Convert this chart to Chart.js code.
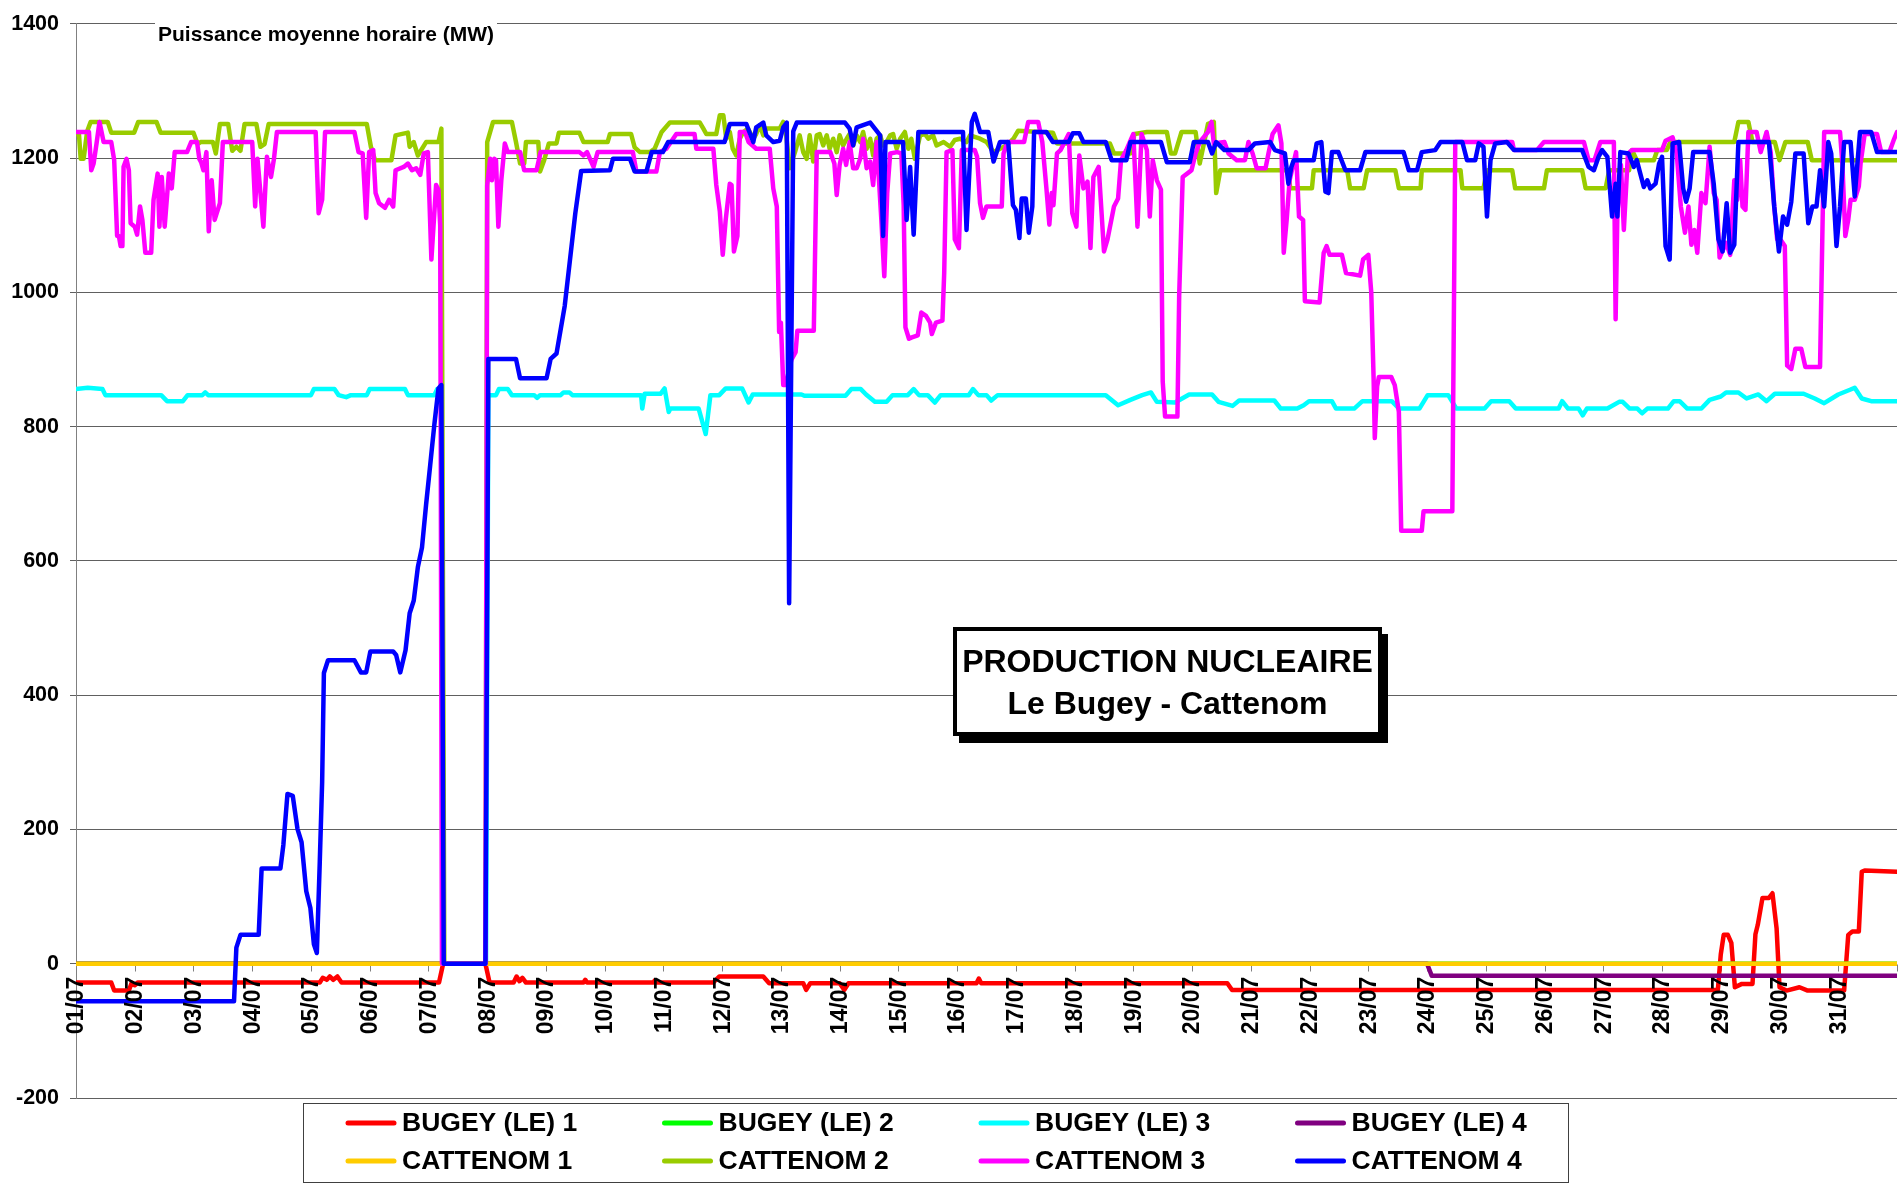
<!DOCTYPE html>
<html>
<head>
<meta charset="utf-8">
<title>Production nucleaire - Le Bugey - Cattenom</title>
<script src="https://cdn.jsdelivr.net/npm/chart.js@4.4.1/dist/chart.umd.min.js"></script>
<style>
  html, body { margin: 0; padding: 0; background: #fff; }
  #caja { width: 1899px; height: 1187px; }
</style>
</head>
<body>
<div id="caja"><canvas id="grafico"></canvas></div>
<script>
// etiquetas del eje x (un tick por dia)
const dias = ['01/07','02/07','03/07','04/07','05/07','06/07','07/07','08/07','09/07','10/07',
  '11/07','12/07','13/07','14/07','15/07','16/07','17/07','18/07','19/07','20/07',
  '21/07','22/07','23/07','24/07','25/07','26/07','27/07','28/07','29/07','30/07','31/07']

const nombres = ['BUGEY (LE) 1','BUGEY (LE) 2','BUGEY (LE) 3','BUGEY (LE) 4',
  'CATTENOM 1','CATTENOM 2','CATTENOM 3','CATTENOM 4']

const titulo = ['PRODUCTION NUCLEAIRE', 'Le Bugey - Cattenom']
const unidad = 'Puissance moyenne horaire (MW)'

// [dia desde el 01/07 00h, MW]
const bugey1 = [[0,-28],[0.6,-28],[0.65,-40],[0.9,-40],[0.95,-28],[1.0,-32],[1.05,-28],[4.15,-28],[4.2,-21],[4.27,-24],[4.32,-19],
  [4.38,-24],[4.45,-19],[4.52,-28],[6.18,-28],[6.25,0],[6.97,0],[7.04,-28],[7.45,-28],[7.5,-19],[7.55,-26],[7.6,-21],[7.66,-28],
  [8.64,-28],[8.67,-24],[8.7,-28],[9.83,-28],[9.85,-25],[9.88,-28],[10.85,-28],[10.95,-19],[11.7,-19],[11.8,-29],[12.38,-29],
  [12.43,-39],[12.5,-29],[13.0,-29],[13.08,-39],[13.15,-29],[15.33,-29],[15.37,-22],[15.41,-29],[19.6,-29],[19.68,-39],[27.95,-39],
  [28.0,14],[28.05,43],[28.12,43],[28.18,31],[28.24,-35],[28.36,-30],[28.54,-30],[28.59,44],[28.63,58],[28.71,98],[28.82,98],
  [28.88,105],[28.95,53],[29.0,-35],[29.12,-40],[29.34,-35],[29.48,-40],[30.1,-40],[30.17,43],[30.24,48],[30.35,48],[30.4,137],
  [30.45,139],[31,137]]

const bugey2 = [[0,0],[31,0]]

const bugey3 = [[0,856],[0.2,858],[0.45,856],[0.5,847],[1.45,847],[1.55,838],[1.82,838],[1.9,847],[2.15,847],[2.2,851],[2.25,847],
  [4.0,847],[4.05,856],[4.4,856],[4.47,847],[4.6,844],[4.68,847],[4.95,847],[5.0,856],[5.6,856],[5.65,847],[6.1,847],[6.15,856],
  [6.22,856],[6.26,0],[6.98,0],[7.02,847],[7.15,847],[7.2,856],[7.35,856],[7.42,847],[7.8,847],[7.85,843],[7.9,847],[8.25,847],
  [8.3,851],[8.4,851],[8.45,847],[9.62,847],[9.64,827],[9.68,849],[9.95,849],[10.02,857],[10.09,822],[10.12,827],[10.6,827],
  [10.72,789],[10.8,847],[10.95,847],[11.06,857],[11.34,857],[11.45,836],[11.52,848],[12.35,848],[12.4,846],[13.1,846],[13.2,856],
  [13.36,856],[13.45,848],[13.6,837],[13.8,837],[13.9,847],[14.16,847],[14.26,856],[14.35,847],[14.5,847],[14.62,836],[14.72,847],
  [15.2,847],[15.27,856],[15.36,847],[15.5,847],[15.58,839],[15.69,847],[17.53,847],[17.74,832],[17.95,840],[18.15,847],[18.3,851],
  [18.4,837],[18.71,836],[18.95,848],[19.34,848],[19.45,837],[19.69,831],[19.8,839],[20.4,839],[20.51,827],[20.79,827],[20.9,832],
  [20.99,838],[21.38,838],[21.45,827],[21.76,827],[21.9,838],[22.4,838],[22.52,827],[22.87,827],[23.01,847],[23.36,847],[23.5,827],
  [23.98,827],[24.09,838],[24.4,838],[24.51,827],[25.24,827],[25.3,838],[25.4,827],[25.58,827],[25.65,817],[25.72,827],[26.07,827],
  [26.27,837],[26.33,837],[26.45,827],[26.58,827],[26.66,820],[26.75,827],[27.1,827],[27.2,838],[27.3,838],[27.43,827],[27.67,827],
  [27.81,840],[28.0,845],[28.09,851],[28.3,851],[28.44,842],[28.64,848],[28.78,838],[28.92,849],[29.41,849],[29.6,842],[29.76,835],
  [30.0,848],[30.2,855],[30.28,858],[30.4,842],[30.56,838],[31,838]]

const bugey4 = [[0,0],[23.0,0],[23.08,-18],[31,-18]]

const cattenom1 = [[0,0],[31,0]]

const cattenom2 = [[0,1236],[0.05,1236],[0.08,1199],[0.13,1199],[0.19,1240],[0.25,1254],[0.54,1254],[0.6,1238],[0.99,1238],
  [1.06,1254],[1.37,1254],[1.44,1238],[2.0,1238],[2.07,1221],[2.12,1224],[2.33,1224],[2.38,1207],[2.45,1251],[2.59,1251],[2.66,1211],
  [2.73,1217],[2.8,1211],[2.87,1251],[3.07,1251],[3.14,1217],[3.21,1221],[3.28,1251],[4.95,1251],[5.02,1217],[5.09,1197],[5.37,1197],
  [5.44,1234],[5.65,1238],[5.68,1217],[5.75,1224],[5.82,1204],[5.96,1224],[6.17,1224],[6.22,1244],[6.27,0],[6.97,0],[7.0,1224],
  [7.1,1254],[7.42,1254],[7.49,1224],[7.56,1192],[7.63,1192],[7.66,1224],[7.87,1224],[7.9,1180],[7.97,1197],[8.05,1222],[8.18,1222],
  [8.22,1238],[8.57,1238],[8.64,1224],[9.05,1224],[9.09,1236],[9.45,1236],[9.51,1216],[9.6,1209],[9.77,1209],[9.85,1214],[9.97,1239],
  [10.11,1253],[10.62,1253],[10.68,1244],[10.73,1236],[10.9,1236],[10.96,1264],[11.02,1264],[11.07,1229],[11.13,1239],[11.18,1214],
  [11.24,1204],[11.3,1229],[11.36,1239],[11.44,1244],[11.53,1229],[11.58,1236],[11.64,1249],[11.7,1234],[11.75,1244],[11.98,1244],
  [12.04,1254],[12.09,1234],[12.15,1185],[12.24,1209],[12.32,1234],[12.38,1209],[12.44,1199],[12.49,1234],[12.55,1195],[12.61,1234],
  [12.66,1236],[12.72,1219],[12.78,1234],[12.83,1214],[12.89,1229],[12.95,1209],[13.0,1234],[13.06,1219],[13.12,1229],[13.17,1236],
  [13.23,1219],[13.29,1234],[13.35,1224],[13.4,1239],[13.46,1214],[13.52,1229],[13.57,1204],[13.63,1229],[13.69,1234],[13.74,1219],
  [13.8,1224],[13.86,1234],[13.91,1236],[13.97,1214],[14.03,1229],[14.11,1239],[14.17,1214],[14.22,1229],[14.28,1199],[14.37,1234],
  [14.45,1236],[14.51,1229],[14.59,1234],[14.65,1219],[14.77,1224],[14.88,1217],[14.96,1227],[15.05,1229],[15.16,1224],[15.22,1234],
  [15.39,1229],[15.5,1224],[15.62,1209],[15.73,1214],[15.84,1219],[15.96,1229],[16.04,1241],[16.63,1238],[16.7,1222],[17.6,1222],
  [17.67,1207],[17.95,1207],[18.02,1236],[18.23,1239],[18.57,1239],[18.64,1207],[18.71,1207],[18.82,1239],[19.06,1239],[19.13,1192],
  [19.27,1251],[19.37,1254],[19.41,1148],[19.48,1182],[20.64,1182],[20.67,1155],[21.04,1155],[21.07,1182],[21.64,1182],[21.69,1155],
  [21.92,1155],[21.98,1182],[22.46,1182],[22.52,1155],[22.89,1155],[22.91,1182],[23.57,1182],[23.6,1155],[23.96,1155],[24.02,1182],
  [24.45,1182],[24.5,1155],[24.99,1155],[25.04,1182],[25.64,1182],[25.7,1155],[26.04,1155],[26.1,1182],[26.44,1182],[26.49,1212],
  [26.57,1197],[26.86,1197],[26.92,1212],[27.08,1212],[27.14,1224],[28.23,1224],[28.3,1254],[28.47,1254],[28.54,1224],[28.92,1224],
  [29.0,1197],[29.1,1224],[29.48,1224],[29.55,1197],[31,1197]]

const cattenom3 = [[0,1239],[0.22,1239],[0.26,1182],[0.3,1192],[0.35,1222],[0.4,1254],[0.47,1224],[0.6,1224],[0.65,1197],
  [0.7,1084],[0.73,1084],[0.76,1069],[0.79,1069],[0.81,1187],[0.86,1199],[0.9,1182],[0.93,1103],[1.0,1098],[1.04,1086],[1.09,1128],
  [1.13,1108],[1.18,1059],[1.28,1059],[1.32,1138],[1.39,1177],[1.42,1098],[1.46,1172],[1.51,1098],[1.58,1177],[1.63,1155],[1.68,1209],
  [1.89,1209],[1.96,1224],[2.06,1224],[2.1,1199],[2.13,1194],[2.17,1182],[2.22,1209],[2.26,1091],[2.31,1167],[2.36,1108],[2.45,1133],
  [2.5,1224],[3.0,1224],[3.05,1128],[3.09,1199],[3.14,1148],[3.19,1098],[3.25,1202],[3.32,1172],[3.37,1199],[3.42,1239],[4.08,1239],
  [4.13,1118],[4.19,1138],[4.24,1239],[4.74,1239],[4.81,1209],[4.88,1207],[4.94,1111],[4.99,1209],[5.06,1212],[5.1,1148],[5.16,1133],
  [5.26,1126],[5.33,1138],[5.4,1128],[5.44,1182],[5.58,1187],[5.65,1192],[5.72,1182],[5.79,1185],[5.86,1175],[5.92,1207],[5.99,1209],
  [6.05,1049],[6.1,1118],[6.13,1160],[6.17,1153],[6.2,1100],[6.23,0],[6.97,0],[7.0,1160],[7.05,1199],[7.08,1167],[7.12,1199],
  [7.15,1197],[7.19,1098],[7.24,1167],[7.3,1222],[7.35,1209],[7.56,1209],[7.63,1182],[7.84,1182],[7.91,1209],[8.57,1209],[8.64,1204],
  [8.7,1209],[8.81,1187],[8.88,1209],[9.48,1209],[9.54,1180],[9.88,1180],[9.94,1209],[10.05,1214],[10.22,1236],[10.53,1236],
  [10.56,1214],[10.85,1214],[10.9,1160],[10.96,1121],[11.01,1056],[11.06,1108],[11.13,1162],[11.16,1160],[11.2,1061],[11.26,1084],
  [11.3,1239],[11.39,1239],[11.45,1224],[11.58,1214],[11.81,1214],[11.87,1155],[11.93,1128],[11.97,941],[12.0,955],[12.04,862],
  [12.08,862],[12.18,900],[12.25,911],[12.28,943],[12.56,943],[12.61,1209],[12.84,1209],[12.91,1192],[12.95,1145],[13.0,1190],
  [13.06,1214],[13.11,1190],[13.17,1224],[13.23,1185],[13.29,1185],[13.35,1199],[13.4,1229],[13.46,1185],[13.52,1195],[13.57,1160],
  [13.63,1224],[13.67,1167],[13.71,1108],[13.76,1024],[13.81,1148],[13.86,1207],[13.98,1209],[14.05,1207],[14.09,1130],[14.12,948],
  [14.18,931],[14.23,933],[14.33,936],[14.39,970],[14.47,965],[14.54,955],[14.57,938],[14.64,955],[14.75,958],[14.78,1029],[14.82,1209],
  [14.92,1212],[14.96,1079],[15.03,1066],[15.08,1212],[15.3,1212],[15.34,1202],[15.39,1133],[15.44,1111],[15.5,1128],[15.76,1128],
  [15.79,1207],[15.86,1224],[16.14,1224],[16.21,1254],[16.38,1254],[16.45,1224],[16.52,1155],[16.57,1101],[16.61,1148],[16.64,1130],
  [16.7,1207],[16.76,1212],[16.9,1236],[16.96,1118],[17.03,1098],[17.08,1204],[17.15,1155],[17.22,1165],[17.27,1066],[17.32,1172],
  [17.41,1187],[17.5,1061],[17.56,1079],[17.67,1128],[17.74,1140],[17.79,1197],[17.88,1212],[18.0,1236],[18.07,1098],[18.14,1236],
  [18.23,1212],[18.28,1113],[18.33,1197],[18.4,1167],[18.47,1153],[18.5,867],[18.54,815],[18.75,815],[18.78,995],[18.84,1172],
  [18.96,1180],[18.99,1182],[19.06,1207],[19.13,1224],[19.27,1239],[19.33,1254],[19.37,1222],[19.55,1224],[19.62,1207],[19.76,1197],
  [19.9,1197],[19.96,1224],[20.03,1207],[20.1,1185],[20.25,1185],[20.3,1207],[20.37,1236],[20.47,1249],[20.52,1222],[20.56,1059],
  [20.61,1108],[20.66,1167],[20.72,1190],[20.77,1209],[20.82,1113],[20.89,1108],[20.92,987],[21.17,985],[21.24,1059],[21.29,1069],
  [21.34,1056],[21.55,1056],[21.62,1029],[21.86,1025],[21.91,1049],[22.0,1056],[22.05,1000],[22.09,872],[22.11,783],[22.15,860],
  [22.18,874],[22.39,874],[22.45,862],[22.52,822],[22.56,645],[22.91,645],[22.94,674],[23.43,674],[23.48,1224],[24.45,1224],
  [24.48,1212],[24.87,1212],[24.99,1224],[25.67,1224],[25.75,1197],[25.85,1197],[25.95,1224],[26.18,1224],[26.21,960],[26.24,1118],
  [26.3,1190],[26.35,1093],[26.42,1207],[26.49,1212],[27.0,1212],[27.06,1226],[27.18,1231],[27.25,1207],[27.32,1128],[27.39,1089],
  [27.45,1128],[27.5,1071],[27.55,1093],[27.6,1059],[27.67,1148],[27.74,1133],[27.81,1217],[27.88,1148],[27.93,1138],[27.98,1052],
  [28.09,1074],[28.16,1056],[28.23,1167],[28.28,1138],[28.33,1197],[28.37,1128],[28.42,1123],[28.47,1239],[28.61,1239],[28.68,1209],
  [28.78,1239],[28.85,1209],[28.91,1128],[28.96,1079],[29.03,1077],[29.09,1069],[29.13,891],[29.2,886],[29.27,916],[29.37,916],
  [29.44,889],[29.69,889],[29.76,1239],[30.03,1239],[30.07,1192],[30.12,1084],[30.17,1108],[30.21,1138],[30.28,1138],[30.35,1158],
  [30.38,1192],[30.45,1236],[30.66,1236],[30.73,1209],[30.87,1209],[30.94,1226],[31,1239]]

const cattenom4 = [[0,-56],[2.69,-56],[2.73,24],[2.8,43],[3.11,43],[3.16,142],[3.48,142],[3.53,177],[3.6,253],[3.69,250],
  [3.77,201],[3.84,181],[3.92,108],[3.99,83],[4.05,29],[4.1,16],[4.15,152],[4.19,270],[4.22,433],[4.29,452],[4.74,452],[4.85,434],
  [4.94,434],[5.01,465],[5.4,465],[5.45,460],[5.52,434],[5.61,467],[5.68,522],[5.75,541],[5.82,591],[5.89,620],[5.96,684],[6.03,743],
  [6.1,803],[6.17,857],[6.22,862],[6.26,0],[6.97,0],[7.02,901],[7.49,901],[7.56,872],[8.01,872],[8.08,901],[8.18,909],[8.32,980],
  [8.5,1118],[8.6,1181],[9.09,1182],[9.14,1199],[9.43,1199],[9.51,1180],[9.71,1180],[9.8,1209],[9.99,1209],[10.08,1224],[11.04,1224],
  [11.13,1251],[11.41,1251],[11.53,1224],[11.58,1246],[11.7,1253],[11.75,1234],[11.87,1224],[11.98,1226],[12.04,1246],[12.1,1253],
  [12.14,537],[12.21,1240],[12.27,1253],[13.09,1253],[13.17,1244],[13.23,1219],[13.29,1246],[13.52,1253],[13.6,1244],[13.69,1234],
  [13.74,1084],[13.78,1224],[14.08,1224],[14.14,1108],[14.2,1187],[14.26,1086],[14.34,1239],[15.1,1239],[15.16,1093],[15.25,1254],
  [15.3,1266],[15.39,1239],[15.53,1239],[15.62,1195],[15.73,1224],[15.87,1224],[15.95,1130],[16.0,1123],[16.06,1081],[16.1,1140],
  [16.17,1140],[16.22,1089],[16.28,1128],[16.31,1239],[16.52,1239],[16.63,1224],[16.9,1224],[16.97,1237],[17.08,1237],[17.15,1224],
  [17.53,1224],[17.63,1197],[17.88,1197],[17.95,1224],[18.47,1224],[18.57,1194],[18.96,1194],[19.03,1224],[19.27,1224],[19.34,1207],
  [19.41,1224],[19.55,1212],[19.96,1212],[20.07,1222],[20.33,1224],[20.41,1212],[20.58,1207],[20.64,1162],[20.69,1187],[20.73,1197],
  [21.07,1197],[21.12,1222],[21.2,1224],[21.27,1150],[21.32,1148],[21.38,1209],[21.49,1209],[21.61,1182],[21.86,1182],[21.95,1209],
  [22.6,1209],[22.69,1182],[22.83,1182],[22.91,1209],[23.14,1212],[23.23,1224],[23.6,1224],[23.68,1197],[23.82,1197],[23.88,1222],
  [23.96,1217],[24.02,1113],[24.08,1197],[24.16,1222],[24.36,1224],[24.48,1212],[25.64,1212],[25.75,1187],[25.84,1182],[25.92,1202],
  [25.98,1212],[26.07,1202],[26.15,1113],[26.21,1162],[26.24,1113],[26.29,1209],[26.43,1207],[26.52,1187],[26.57,1197],[26.63,1177],
  [26.69,1157],[26.75,1167],[26.8,1155],[26.89,1162],[26.95,1192],[27.0,1202],[27.06,1069],[27.13,1049],[27.18,1222],[27.29,1224],
  [27.36,1155],[27.41,1135],[27.47,1155],[27.53,1209],[27.81,1209],[27.88,1162],[27.96,1079],[28.03,1061],[28.1,1133],[28.16,1059],
  [28.23,1071],[28.3,1224],[28.82,1224],[28.91,1128],[28.99,1061],[29.06,1113],[29.13,1101],[29.2,1135],[29.27,1207],[29.41,1207],
  [29.49,1103],[29.56,1128],[29.63,1128],[29.69,1182],[29.76,1128],[29.83,1224],[29.88,1207],[29.97,1069],[30.03,1128],[30.1,1224],
  [30.21,1224],[30.28,1143],[30.37,1239],[30.56,1239],[30.66,1209],[31,1209]]

const series = [bugey1, bugey2, bugey3, bugey4, cattenom1, cattenom2, cattenom3, cattenom4]
const colores = ['#FF0000','#00FF00','#00FFFF','#800080','#FFCC00','#99CC00','#FF00FF','#0000FF']

const fuente = '"Liberation Sans", Arial, sans-serif'
Chart.defaults.font.family = fuente

// eje x en el cero, etiquetas giradas, recuadros y leyenda
const decorado = {
  id: 'decorado',
  beforeDatasetsDraw(chart) {
    const ctx = chart.ctx
    const x = chart.scales.x
    const y0 = Math.round(chart.scales.y.getPixelForValue(0)) + 0.5
    ctx.save()
    ctx.strokeStyle = '#808080'
    ctx.lineWidth = 1
    ctx.beginPath()
    ctx.moveTo(chart.chartArea.left, y0)
    ctx.lineTo(chart.chartArea.right, y0)
    for (let i = 0; i <= dias.length; i++) {
      const px = Math.round(x.getPixelForValue(i)) + 0.5
      ctx.moveTo(px, y0)
      ctx.lineTo(px, y0 + 7)
    }
    ctx.stroke()
    ctx.restore()
  },
  afterDatasetsDraw(chart) {
    const ctx = chart.ctx
    const x = chart.scales.x
    const y0 = chart.scales.y.getPixelForValue(0)
    ctx.save()

    // fechas
    ctx.fillStyle = '#000'
    ctx.font = 'bold 23px ' + fuente
    ctx.textAlign = 'right'
    ctx.textBaseline = 'middle'
    dias.forEach((d, i) => {
      ctx.save()
      ctx.translate(x.getPixelForValue(i) + 1, y0 + 13)
      ctx.rotate(-Math.PI / 2)
      ctx.fillText(d, 0, 0)
      ctx.restore()
    })

    // unidad arriba a la izquierda
    ctx.fillStyle = '#fff'
    ctx.fillRect(155, 6, 342, 44)
    ctx.fillStyle = '#000'
    ctx.font = 'bold 21px ' + fuente
    ctx.textAlign = 'left'
    ctx.textBaseline = 'alphabetic'
    ctx.fillText(unidad, 158, 40.5)

    // recuadro del titulo con sombra
    ctx.fillStyle = '#000'
    ctx.fillRect(959, 634, 429, 109)
    ctx.fillStyle = '#fff'
    ctx.fillRect(953, 627, 429, 109)
    ctx.strokeStyle = '#000'
    ctx.lineWidth = 4
    ctx.strokeRect(955, 629, 425, 105)
    ctx.fillStyle = '#000'
    ctx.font = 'bold 32px ' + fuente
    ctx.textAlign = 'center'
    ctx.textBaseline = 'middle'
    ctx.fillText(titulo[0], 1167.5, 663)
    ctx.fillText(titulo[1], 1167.5, 705)

    ctx.restore()
  },
  afterDraw(chart) {
    const ctx = chart.ctx
    ctx.save()
    ctx.fillStyle = '#fff'
    ctx.fillRect(303, 1103, 1266, 80)
    ctx.strokeStyle = '#404040'
    ctx.lineWidth = 1
    ctx.strokeRect(303.5, 1103.5, 1265, 79)
    ctx.font = 'bold 26.5px ' + fuente
    ctx.textAlign = 'left'
    ctx.textBaseline = 'middle'
    ctx.lineCap = 'round'
    nombres.forEach((n, i) => {
      const col = i % 4
      const fila = Math.floor(i / 4)
      const lx = 346 + col * 316.5
      const ly = fila === 0 ? 1123 : 1161
      ctx.strokeStyle = colores[i]
      ctx.lineWidth = 5
      ctx.beginPath()
      ctx.moveTo(lx + 2, ly)
      ctx.lineTo(lx + 48, ly)
      ctx.stroke()
      ctx.fillStyle = '#000'
      ctx.fillText(n, lx + 56, ly + 1)
    })
    ctx.restore()
  }
}

const datasets = series.map((s, i) => ({
  label: nombres[i],
  data: s,
  borderColor: colores[i],
  backgroundColor: colores[i],
  borderWidth: 4.5,
  pointRadius: 0,
  tension: 0,
  fill: false,
  borderJoinStyle: 'round',
  borderCapStyle: 'round',
  order: series.length - i
}))

const config = {
  type: 'line',
  data: { datasets },
  options: {
    responsive: true,
    maintainAspectRatio: false,
    animation: false,
    devicePixelRatio: 1,
    layout: { padding: { top: 16, right: 2, bottom: 89, left: 0 } },
    plugins: {
      legend: { display: false },
      tooltip: { enabled: false }
    },
    scales: {
      x: {
        type: 'linear',
        min: 0,
        max: 31,
        display: false
      },
      y: {
        min: -200,
        max: 1400,
        afterFit: (s) => { s.width = 76 },
        ticks: {
          stepSize: 200,
          color: '#000',
          padding: 11,
          font: { size: 21.5, weight: 'bold' },
          callback: (v) => String(v)
        },
        grid: { color: '#606060', lineWidth: 1, tickLength: 6 },
        border: { display: true, color: '#808080', width: 1 }
      }
    }
  },
  plugins: [decorado]
}

new Chart(document.getElementById('grafico'), config)
</script>
</body>
</html>
